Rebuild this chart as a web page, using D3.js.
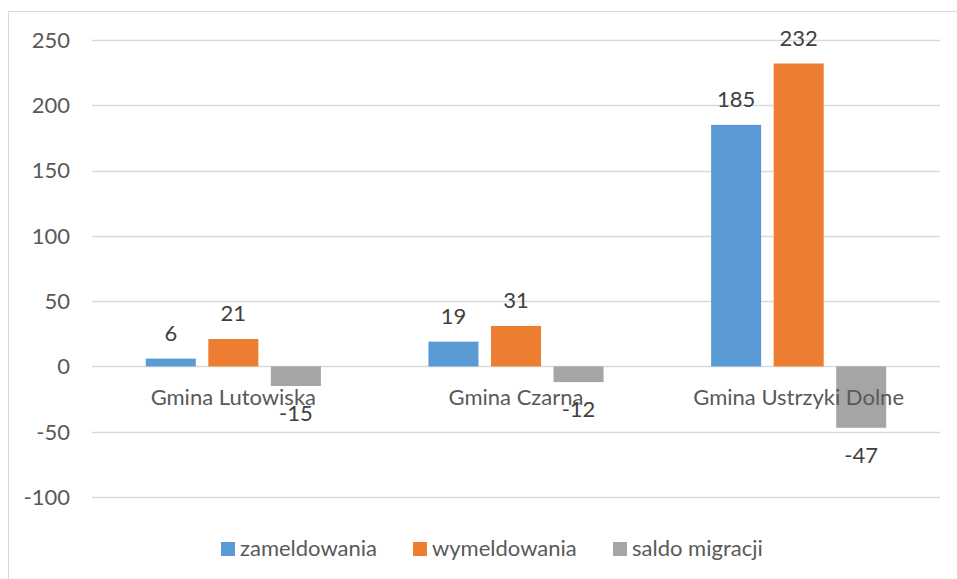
<!DOCTYPE html>
<html>
<head>
<meta charset="utf-8">
<script src="https://cdn.jsdelivr.net/npm/d3@7"></script>
<style>
  body { margin: 0; background: #fff; }
  text { font-family: Lato, "Open Sans", sans-serif; fill: #404040; }
</style>
</head>
<body>
<script>
var categories = ['Gmina Lutowiska', 'Gmina Czarna', 'Gmina Ustrzyki Dolne']
var seriesNames = ['zameldowania', 'wymeldowania', 'saldo migracji']
var zameldowania = [6, 19, 185]
var wymeldowania = [21, 31, 232]
var saldoMigracji = [-15, -12, -47]
var yTicks = [-100, -50, 0, 50, 100, 150, 200, 250]
var colors = ['#5b9bd5', '#ed7d31', '#a5a5a5']

var svgWidth = 957
var svgHeight = 579
var fontSize = 22

var svg = d3.select('body')
  .append('svg')
  .attr('width', svgWidth)
  .attr('height', svgHeight)

// chart border
svg.append('rect')
  .attr('x', 8.5)
  .attr('y', 11.5)
  .attr('width', 960)
  .attr('height', 600)
  .attr('fill', 'none')
  .attr('stroke', '#d9d9d9')

var plotLeft = 92
var plotRight = 940

var y = d3.scaleLinear()
  .domain([-100, 250])
  .range([497, 40])

var x = d3.scaleBand()
  .domain(categories)
  .range([plotLeft, plotRight])

var xSeries = d3.scaleBand()
  .domain(seriesNames)
  .range([0, x.bandwidth()])
  .paddingInner(0.2)
  .paddingOuter(0.86)

// gridlines
svg.append('g').selectAll('line')
  .data(yTicks)
  .enter()
  .append('line')
  .attr('x1', plotLeft)
  .attr('x2', plotRight)
  .attr('y1', d => Math.round(y(d)) + 0.5)
  .attr('y2', d => Math.round(y(d)) + 0.5)
  .attr('stroke', '#d9d9d9')
  .attr('stroke-width', 1.3)

// y tick labels
svg.append('g').selectAll('text')
  .data(yTicks)
  .enter()
  .append('text')
  .attr('x', 70)
  .attr('y', d => y(d))
  .attr('dy', '0.36em')
  .attr('text-anchor', 'end')
  .attr('font-size', fontSize)
  .style('fill', '#595959')
  .text(d => d)

var rows = []
var allSeries = [zameldowania, wymeldowania, saldoMigracji]
categories.forEach((c, i) => {
  allSeries.forEach((s, j) => {
    rows.push({ cat: c, series: seriesNames[j], value: s[i], color: colors[j] })
  })
})

var bars = svg.append('g').selectAll('rect')
  .data(rows)
  .enter()
  .append('rect')
  .attr('x', d => x(d.cat) + xSeries(d.series))
  .attr('width', xSeries.bandwidth())
  .attr('y', d => y(Math.max(0, d.value)))
  .attr('height', d => Math.abs(y(d.value) - y(0)))
  .attr('fill', d => d.color)

// category labels
svg.append('g').selectAll('text')
  .data(categories)
  .enter()
  .append('text')
  .attr('x', d => x(d) + x.bandwidth() / 2)
  .attr('y', y(0) + 39)
  .attr('text-anchor', 'middle')
  .attr('font-size', fontSize)
  .style('fill', '#595959')
  .text(d => d)

// data labels
svg.append('g').selectAll('text')
  .data(rows)
  .enter()
  .append('text')
  .attr('x', d => x(d.cat) + xSeries(d.series) + xSeries.bandwidth() / 2)
  .attr('y', d => d.value >= 0 ? y(d.value) - 18 : y(d.value) + 35)
  .attr('text-anchor', 'middle')
  .attr('font-size', fontSize)
  .text(d => d.value)

// legend
var legendX = [221, 413, 613]
var legend = svg.append('g').selectAll('g')
  .data(seriesNames)
  .enter()
  .append('g')
  .attr('transform', (d, i) => 'translate(' + legendX[i] + ',542)')

legend.append('rect')
  .attr('width', 14)
  .attr('height', 14)
  .attr('fill', (d, i) => colors[i])

legend.append('text')
  .attr('x', 19)
  .attr('y', 14)
  .attr('font-size', fontSize)
  .style('fill', '#595959')
  .text(d => d)
</script>
</body>
</html>
